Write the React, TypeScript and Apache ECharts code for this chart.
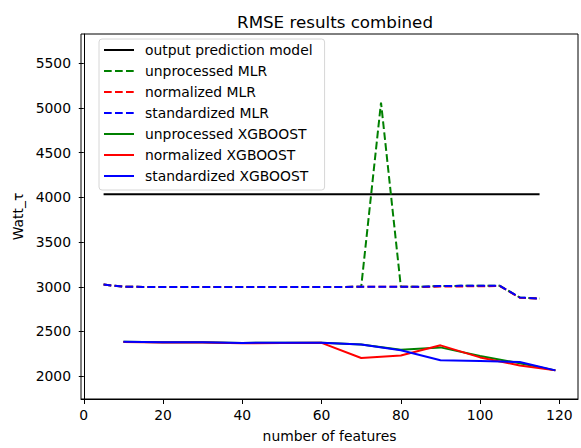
import React, { useEffect, useRef } from "react";
import * as echarts from "echarts";

const titleText = "RMSE results combined";
const xName = "number of features";
const yName = "Watt_τ";

const xTicks = [0, 20, 40, 60, 80, 100, 120];
const yTicks = [2000, 2500, 3000, 3500, 4000, 4500, 5000, 5500];

const outputX = [5, 115];
const outputModel = [4033, 4033];

const mlrX = [5, 10, 15, 20, 25, 30, 35, 40, 45, 50, 55, 60, 65, 70, 75, 80, 85, 90, 95, 100, 105, 110, 115];
const unprocessedMLR = [3025, 3000, 2998, 2998, 2998, 2998, 2998, 2998, 2998, 2998, 2998, 2998, 2998, 3000, 5060, 3000, 3000, 3008, 3010, 3010, 3010, 2880, 2868];
const normalizedMLR = [3025, 3000, 2998, 2998, 2998, 2998, 2998, 2998, 2998, 2998, 2998, 2998, 2998, 3000, 3000, 3000, 2998, 3002, 3004, 3005, 3008, 2878, 2866];
const standardizedMLR = [3025, 3000, 2998, 2998, 2998, 2998, 2998, 2998, 2998, 2998, 2998, 2998, 2998, 3000, 3000, 3000, 3000, 3008, 3010, 3010, 3010, 2880, 2868];

const xgbX = [10, 20, 30, 40, 50, 60, 70, 80, 90, 100, 110, 119];
const unprocessedXGB = [2385, 2380, 2380, 2372, 2375, 2375, 2355, 2295, 2322, 2225, 2145, 2065];
const normalizedXGB = [2383, 2378, 2378, 2368, 2372, 2373, 2203, 2232, 2345, 2210, 2120, 2065];
const standardizedXGB = [2385, 2380, 2380, 2372, 2375, 2375, 2355, 2290, 2178, 2170, 2158, 2065];

const FONT = "DejaVu Sans";
const DASH = [7.7, 3.3];

function pairs(xs: number[], ys: number[]) {
  return xs.map((x, i) => [x, ys[i]]);
}

function lineSeries(name: string, xs: number[], ys: number[], color: string, dashed: boolean) {
  return {
    name,
    type: "line",
    data: pairs(xs, ys),
    symbol: "none",
    showSymbol: false,
    lineStyle: { color, width: 2, type: dashed ? DASH : "solid", cap: "butt" },
    itemStyle: { color },
    emphasis: { disabled: true },
    z: 2,
  };
}

export default function App() {
  const ref = useRef<HTMLDivElement>(null);
  useEffect(() => {
    if (!ref.current) return;
    const chart = echarts.init(ref.current, null, { renderer: "svg" });
    const series = [
      lineSeries("output prediction model", outputX, outputModel, "#000000", false),
      lineSeries("unprocessed MLR", mlrX, unprocessedMLR, "#008000", true),
      lineSeries("normalized MLR", mlrX, normalizedMLR, "#ff0000", true),
      lineSeries("standardized MLR", mlrX, standardizedMLR, "#0000ff", true),
      lineSeries("unprocessed XGBOOST", xgbX, unprocessedXGB, "#008000", false),
      lineSeries("normalized XGBOOST", xgbX, normalizedXGB, "#ff0000", false),
      lineSeries("standardized XGBOOST", xgbX, standardizedXGB, "#0000ff", false),
    ];
    chart.setOption({
      animation: false,
      backgroundColor: "#ffffff",
      title: {
        text: titleText,
        left: 330,
        top: 8,
        textAlign: "center",
        textStyle: { fontFamily: FONT, fontSize: 16.7, fontWeight: "normal", color: "#000" },
      },
      grid: {
        left: 81,
        top: 34,
        right: 3,
        bottom: 41,
        show: true,
        borderColor: "#000",
        borderWidth: 1,
        backgroundColor: "transparent",
      },
      legend: {
        orient: "vertical",
        left: 99,
        top: 39,
        itemWidth: 30,
        itemHeight: 14,
        itemGap: 7,
        padding: [4, 12, 7, 4],
        backgroundColor: "rgba(255,255,255,0.8)",
        borderColor: "#d6d6d6",
        borderWidth: 1,
        borderRadius: 3,
        selectedMode: false,
        itemStyle: { opacity: 0 },
        textStyle: { fontFamily: FONT, fontSize: 13.9, color: "#000", lineHeight: 14, padding: [0, 0, 0, 6] },
        data: series.map((s) => s.name),
      },
      xAxis: {
        type: "value",
        min: -0.7,
        max: 124.7,
        name: xName,
        nameLocation: "middle",
        nameGap: 30,
        nameTextStyle: { fontFamily: FONT, fontSize: 13.9, color: "#000" },
        axisLine: { show: true, lineStyle: { color: "#000", width: 1 } },
        axisTick: { show: true, length: 5, lineStyle: { color: "#000", width: 1 }, customValues: xTicks },
        axisLabel: { fontFamily: FONT, fontSize: 13.9, color: "#000", margin: 9, customValues: xTicks },
        splitLine: { show: false },
      },
      yAxis: {
        type: "value",
        min: 1745,
        max: 5826,
        name: yName,
        nameLocation: "middle",
        nameGap: 51,
        nameRotate: 90,
        nameTextStyle: { fontFamily: FONT, fontSize: 13.9, color: "#000" },
        axisLine: { show: true, lineStyle: { color: "#000", width: 1 } },
        axisTick: { show: true, length: 5, lineStyle: { color: "#000", width: 1 }, customValues: yTicks },
        axisLabel: {
          fontFamily: FONT,
          fontSize: 13.9,
          color: "#000",
          margin: 10,
          customValues: yTicks,
          formatter: (v: number) => String(v),
        },
        splitLine: { show: false },
      },
      series,
    });
    return () => chart.dispose();
  }, []);
  return (
    <div
      ref={ref}
      style={{ position: "fixed", left: 0, top: 0, width: 581, height: 448, background: "#fff" }}
    />
  );
}
